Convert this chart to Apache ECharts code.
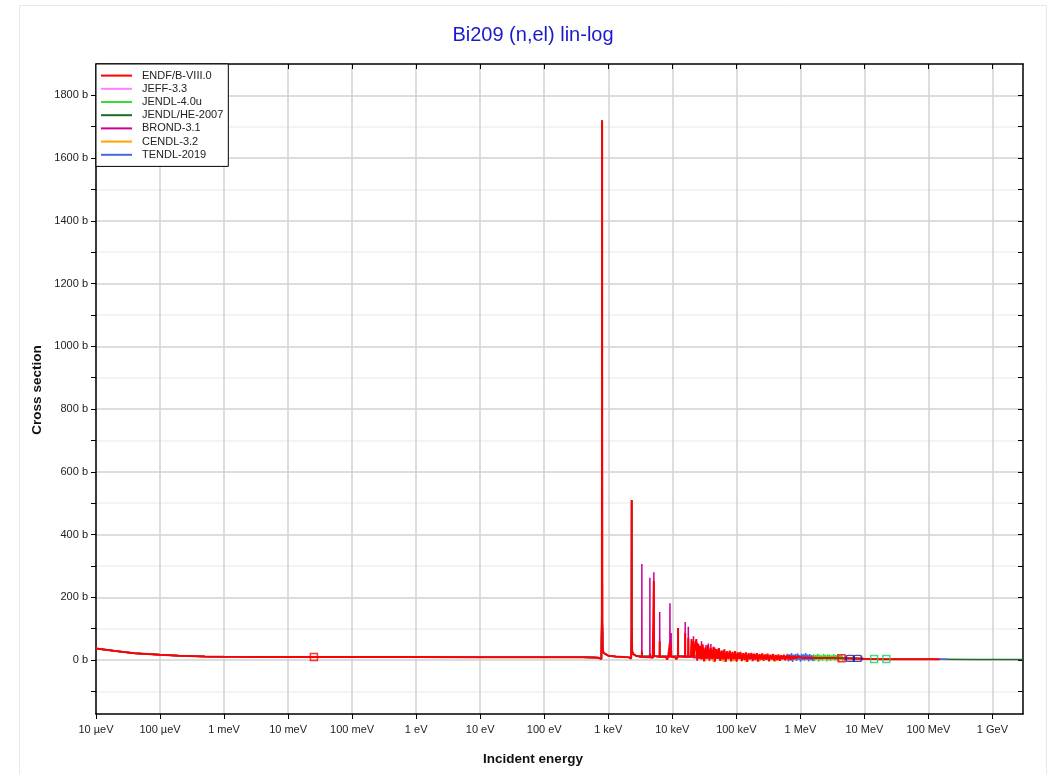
<!DOCTYPE html>
<html><head><meta charset="utf-8">
<script src="https://cdn.jsdelivr.net/npm/echarts@6/dist/echarts.min.js"></script>
<style>html,body{margin:0;padding:0;background:#fff}#c{width:1049px;height:774px}</style>
</head><body><div id="c"></div>
<script>
// ---- tick labels ----
const xTickValues = [1e-5,1e-4,1e-3,1e-2,1e-1,1,10,100,1e3,1e4,1e5,1e6,1e7,1e8,1e9];
const xTickLabels = ['10 µeV','100 µeV','1 meV','10 meV','100 meV','1 eV','10 eV','100 eV','1 keV','10 keV','100 keV','1 MeV','10 MeV','100 MeV','1 GeV'];
const yTickValues = [-100,0,100,200,300,400,500,600,700,800,900,1000,1100,1200,1300,1400,1500,1600,1700,1800];
const yLabelValues = [0,200,400,600,800,1000,1200,1400,1600,1800];

// ---- series names & colours ----
const seriesNames = ['ENDF/B-VIII.0','JEFF-3.3','JENDL-4.0u','JENDL/HE-2007','BROND-3.1','CENDL-3.2','TENDL-2019'];
const seriesColors = ['#ff0000','#ff80ff','#33dd33','#1e6b2a','#cc0099','#ffa500','#4169e1'];

// ---- shared smooth low-energy part (eV, b) ----
const commonE  = [1e-5,2e-5,4e-5,1e-4,2e-4,5e-4,1e-3,1e-2,0.0253,0.1,1,10,100,400,600,700,750];
const commonXS = [37,29,22,16.5,13.5,11.2,10.4,9.8,9.7,9.5,9.4,9.3,9.1,8.8,8.3,7.5,6];

// ---- first two large resonances (800 eV, 2.32 keV) ----
const res12E  = [780,795,799,801.6,804,808,820,850,900,1000,1300,1700,2100,2280,2310,2323,2335,2360,2450,2700,3100];
const res12XS = [3,150,700,1720,700,120,32,22,17,14,11.5,10,8.5,5,80,510,90,28,19,14,11.5];

// ---- ENDF/B-VIII.0 resolved region 3 - 27 keV ----
const endfResE  = [3340,3350,3360,4460,4470,4480,4950,5050,5120,5150,5180,5800,6340,6360,6380,8000,8300,8600,9150,9200,9250,9550,9600,9650,11000,11500,12250,12300,12350,14000,15850,15900,15950,17700,17800,17900,19500,20000,20500,21300,21400,21500,22500,23700,24500,25500,26300];
const endfResXS = [10,27,10,9,20,9,7,1,8,252,14,11,10,60,11,10,1,9,10,57,10,10,30,10,10,2,10,102,12,11,10,86,11,10,70,11,10,67,8,10,60,7,3,67,-2,52,4];

// ---- ENDF/B-VIII.0 fluctuating region 27 keV - 1 MeV ----
const endfFluctE  = [27000,28400,29800,31300,32800,34400,36200,38000,39900,41900,44000,46200,48500,50900,53400,56100,58900,61900,65000,68200,71600,75200,79000,82900,87100,91400,96000,101000,106000,111000,116000,122000,128000,135000,141000,148000,156000,164000,172000,180000,189000,199000,209000,219000,230000,242000,254000,266000,280000,294000,308000,324000,340000,357000,375000,393000,413000,434000,455000,478000,502000,527000,553000,581000,610000,641000,673000,706000,742000,779000,818000,859000,902000,947000,994000];
const endfFluctXS = [45,2,50,-4,40,5,48,-2,38,3,42,-5,35,4,38,-3,30,2,34,-6,28,3,30,-4,26,2,28,-5,24,3,26,-3,22,1,24,-6,22,2,23,-3,20,0,22,-5,19,2,21,-2,18,1,20,-4,17,2,19,-3,16,0,18,-2,15,2,17,-1,14,3,15,0,13,3,12,4,11,5,10];

// ---- ENDF/B-VIII.0 fast region ----
const endfFastE  = [1100000,1200000,1350000,1500000,1800000,2200000,2700000,3300000,4000000,5000000,7000000,1e7,1.4e7,2e7,3e7,5e7,1e8,1.5e8];
const endfFastXS = [6,7.5,6.5,7,6.5,6.8,6.5,6.4,6.2,6,5,4,3.3,2.9,2.6,2.4,2.3,2.2];

// ---- JEFF-3.3 above 3 keV ----
const jeffE  = [3340,3350,3360,5120,5150,5180,6340,6360,6380,12250,12300,12350,15850,15900,15950,25000,40000,70000,120000,250000,500000,1e6,3e6,1e7,2e7];
const jeffXS = [10,30,10,8,250,14,10,70,11,10,100,12,10,90,11,12,14,13,12,11,9,7,6.5,4,2.9];

// ---- JENDL-4.0u above 3 keV (fluctuating band 1.6 - 4.8 MeV) ----
const jendlE  = [3500,10000,30000,100000,400000,1000000,1550000,1610000,1670000,1730000,1795000,1860000,1930000,2000000,2075000,2150000,2230000,2310000,2395000,2485000,2575000,2670000,2770000,2870000,2975000,3085000,3200000,3320000,3440000,3570000,3700000,3835000,3975000,4120000,4275000,4430000,4590000,4760000,5000000,1e7,2e7];
const jendlXS = [12,12,13,12,10,7,6.5,18,-3,16,1,20,-5,17,0,15,-2,19,2,16,-4,18,0,17,-3,15,1,19,-2,16,0,18,-4,15,1,17,-2,6,6,4,2.9];

// ---- JENDL/HE-2007 above 3 keV (to 3 GeV) ----
const jheE  = [3500,20000,100000,1e6,5e6,2e7,1.5e8,5e8,1e9,3e9];
const jheXS = [12,14,12,7,6,2.9,2.3,1.9,1.8,1.7];

// ---- BROND-3.1 above 3 keV ----
const brondE  = [3340,3348,3352,3360,4460,4468,4472,4480,5120,5148,5152,5180,6340,6358,6362,6380,9150,9198,9202,9250,9550,9600,9650,12250,12300,12350,15850,15898,15902,15950,17700,17800,17900,21300,21400,21500,24500,24600,24700,28500,28600,28700,33500,33600,33700,36500,36600,36700,40000,40100,40200,46000,46100,46200,52000,52100,52200,60000,60100,60200,70000,100000,200000,500000,1e6,2e6,5e6,1e7,2e7];
const brondXS = [10,306,306,10,9,262,262,9,8,280,280,14,10,153,153,11,10,181,181,10,10,86,10,10,100,12,10,121,121,11,10,106,11,10,76,7,8,55,8,8,60,6,8,48,6,8,53,6,8,51,7,8,40,6,9,35,6,8,30,6,8,10,9,8,7,6.5,6,4,2.9];

// ---- CENDL-3.2 above 3 keV ----
const cendlE  = [3500,20000,30000,33000,38000,44000,52000,62000,75000,90000,110000,140000,180000,230000,300000,400000,550000,800000,1e6,3e6,1e7,2e7];
const cendlXS = [12,14,28,-3,25,-5,22,-4,20,-3,18,-4,16,-2,14,-3,12,5,7,6.5,4,2.9];

// ---- TENDL-2019 above 3 keV (fluctuating band 0.63 - 1.6 MeV) ----
const tendlE  = [3500,10000,30000,100000,300000,600000,630000,653000,677000,702000,728000,755000,783000,812000,842000,873000,905000,938000,973000,1009000,1046000,1085000,1125000,1166000,1209000,1254000,1300000,1348000,1398000,1450000,1503000,1559000,1610000,3000000,6000000,1e7,2e7,5e7,1e8,2e8];
const tendlXS = [12,12,14,12,10,8,20,-4,18,0,22,-6,17,2,19,-3,21,1,16,-5,20,0,18,-2,22,1,17,-4,19,0,16,-3,6,6,5,4,2.9,2.4,2.3,2.2];

// ---- point markers ----
const markRedE = [0.0253, 4.4e6];       const markRedXS = [9.6, 6];
const markBlueE = [6.0e6, 7.8e6];       const markBlueXS = [5, 5];
const markGreenE = [1.42e7, 2.2e7];     const markGreenXS = [3.5, 3];

function pairs(E, S) { return E.map((e, i) => [e, S[i]]); }
const lowE = commonE.concat(res12E), lowXS = commonXS.concat(res12XS);
const endfE = endfResE.concat(endfFluctE, endfFastE);
const endfXS = endfResXS.concat(endfFluctXS, endfFastXS);
const dataSets = [
  pairs(lowE.concat(endfE), lowXS.concat(endfXS)),
  pairs(lowE.concat(jeffE), lowXS.concat(jeffXS)),
  pairs(lowE.concat(jendlE), lowXS.concat(jendlXS)),
  pairs(lowE.concat(jheE), lowXS.concat(jheXS)),
  pairs(lowE.concat(brondE), lowXS.concat(brondXS)),
  pairs(lowE.concat(cendlE), lowXS.concat(cendlXS)),
  pairs(lowE.concat(tendlE), lowXS.concat(tendlXS))
];
const zOrder = [10, 2, 4, 2, 3, 2, 4];

const FONT = 'Liberation Sans, Arial, sans-serif';
const chart = echarts.init(document.getElementById('c'), null, {renderer: 'canvas'});

function xLabel(v) {
  const e = Math.log10(v), r = Math.round(e);
  if (Math.abs(e - r) > 1e-6) return '';
  const i = xTickValues.findIndex(t => Math.abs(Math.log10(t) - r) < 1e-6);
  return i >= 0 ? xTickLabels[i] : '';
}

const series = seriesNames.map((n, i) => ({
  name: n, type: 'line', data: dataSets[i], showSymbol: false, symbol: 'none',
  color: seriesColors[i], z: zOrder[i], xAxisIndex: 0, yAxisIndex: 0,
  lineStyle: {width: i === 0 ? 2 : 1.5, color: seriesColors[i]}, animation: false
}));
series.push({type: 'scatter', data: pairs(markRedE, markRedXS), symbol: 'rect', symbolSize: 7, z: 12,
  itemStyle: {color: 'rgba(0,0,0,0)', borderColor: '#ff0000', borderWidth: 1.5}, silent: true});
series.push({type: 'scatter', data: pairs(markBlueE, markBlueXS), symbol: 'roundRect', symbolSize: [8, 6], z: 12,
  itemStyle: {color: 'rgba(0,0,0,0)', borderColor: '#1a1aa0', borderWidth: 1.5}, silent: true});
series.push({type: 'scatter', data: pairs(markGreenE, markGreenXS), symbol: 'rect', symbolSize: 7, z: 12,
  itemStyle: {color: 'rgba(0,0,0,0)', borderColor: '#22cc66', borderWidth: 1.5}, silent: true});

const option = {
  animation: false,
  backgroundColor: '#ffffff',
  textStyle: {fontFamily: FONT},
  grid: {left: 96, right: 26, top: 64, bottom: 60, containLabel: false},
  graphic: [
    {type: 'rect', shape: {x: 19.5, y: 5.5, width: 1027, height: 800}, style: {fill: 'none', stroke: '#e8e8e8', lineWidth: 1}, silent: true, z: -10},
    {type: 'text', x: 533, y: 35, style: {text: 'Bi209 (n,el) lin-log', fill: '#1a1acc', font: '20px ' + FONT, textAlign: 'center', textVerticalAlign: 'middle'}},
    {type: 'text', x: 533, y: 759, style: {text: 'Incident energy', fill: '#111', font: 'bold 13.5px ' + FONT, textAlign: 'center', textVerticalAlign: 'middle'}},
    {type: 'text', x: 37, y: 390, rotation: Math.PI / 2, style: {text: 'Cross section', fill: '#111', font: 'bold 13.5px ' + FONT, textAlign: 'center', textVerticalAlign: 'middle'}}
  ],
  legend: {
    data: seriesNames, orient: 'vertical', left: 96, top: 64,
    backgroundColor: '#fff', borderColor: '#000', borderWidth: 1, borderRadius: 0,
    padding: [5, 5, 5, 5], itemGap: 0, itemWidth: 31, itemHeight: 2, icon: 'rect',
    textStyle: {fontSize: 11, color: '#222', fontFamily: FONT, lineHeight: 13.2, padding: [0, 0, 0, 5]},
    selectedMode: false, z: 20
  },
  xAxis: [{
    type: 'log', logBase: 10, min: 1e-5, max: 3e9, position: 'bottom',
    axisLine: {show: true, onZero: false, lineStyle: {color: '#000', width: 1.5}},
    axisTick: {show: true, inside: false, length: 5, customValues: xTickValues, lineStyle: {color: '#000', width: 1}},
    axisLabel: {show: true, customValues: xTickValues, formatter: xLabel, fontSize: 11, color: '#222', margin: 10, fontFamily: FONT},
    splitLine: {show: true, lineStyle: {color: '#d2d2d2', width: 1.5}},
    minorTick: {show: false}
  }, {
    type: 'log', logBase: 10, min: 1e-5, max: 3e9, position: 'top',
    axisLine: {show: true, onZero: false, lineStyle: {color: '#000', width: 1.5}},
    axisTick: {show: true, inside: true, length: 5, customValues: xTickValues, lineStyle: {color: '#000', width: 1}},
    axisLabel: {show: false}, splitLine: {show: false}
  }],
  yAxis: [{
    type: 'value', min: -172, max: 1900, position: 'left',
    axisLine: {show: true, onZero: false, lineStyle: {color: '#000', width: 1.5}},
    axisTick: {show: true, inside: false, length: 5, customValues: yTickValues, lineStyle: {color: '#000', width: 1}},
    axisLabel: {show: true, customValues: yLabelValues, formatter: v => v + ' b', fontSize: 11, color: '#222', margin: 8, fontFamily: FONT},
    splitLine: {show: true, lineStyle: {color: ['#efefef', '#d2d2d2'], width: 1.5}}
  }, {
    type: 'value', min: -172, max: 1900, position: 'right',
    axisLine: {show: true, onZero: false, lineStyle: {color: '#000', width: 1.5}},
    axisTick: {show: true, inside: true, length: 5, customValues: yTickValues, lineStyle: {color: '#000', width: 1}},
    axisLabel: {show: false}, splitLine: {show: false}
  }],
  series: series
};
chart.setOption(option);
</script>
</body></html>
